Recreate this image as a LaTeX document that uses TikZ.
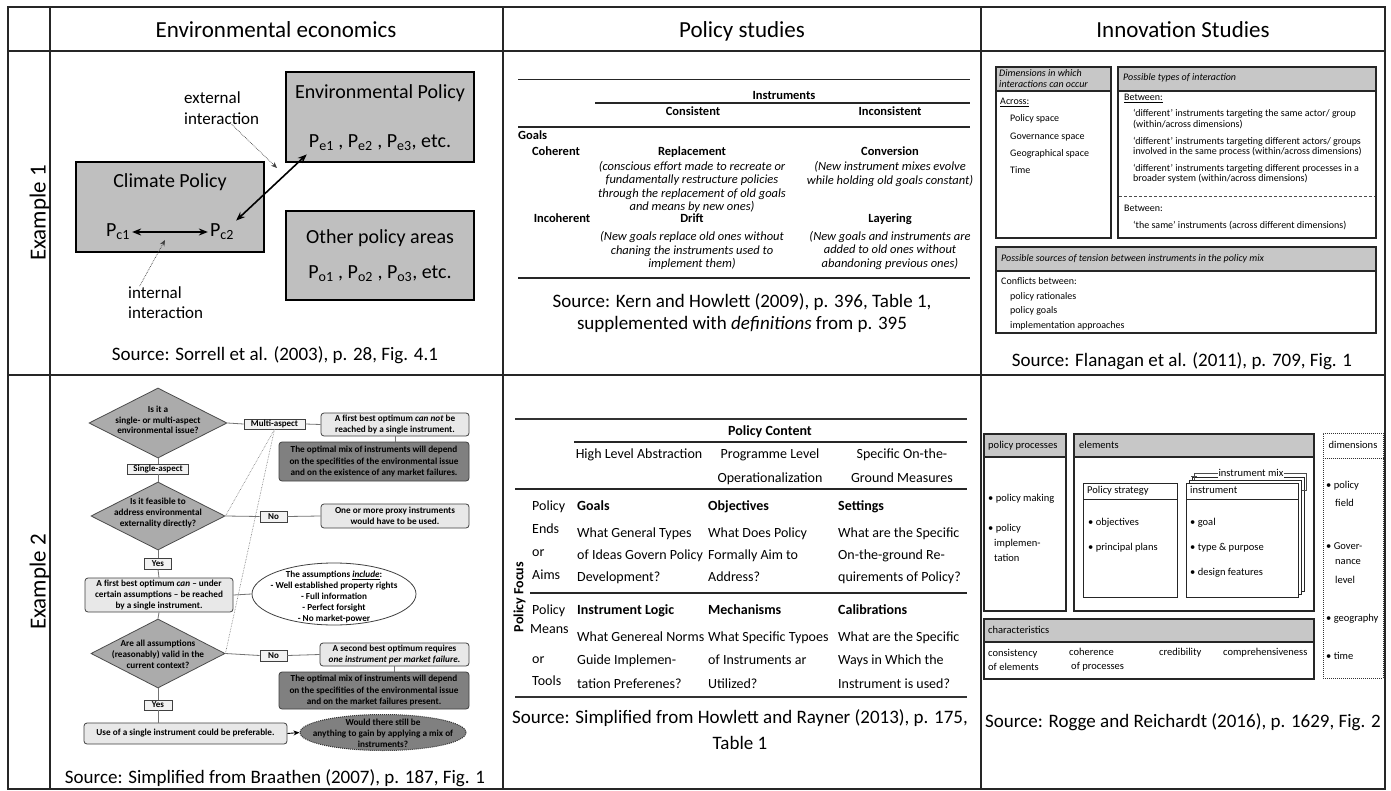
\documentclass[tikz,border=0pt]{standalone}
\usepackage{fontspec}
\setmainfont{Carlito}
\usetikzlibrary{shapes.geometric,arrows.meta}
\newcommand\fsz[2]{\fontsize{#1}{#2}\selectfont}
\begin{document}
\begin{tikzpicture}[x=1pt,y=-1pt,
 frame/.style={draw=black!85,line width=1.3pt},
 hdr/.style={font=\fsz{23}{27},inner sep=0,text height=16.1,text depth=5.1},
 src/.style={font=\fsz{19}{22},inner sep=0,align=center},
 srcs/.style={font=\fsz{19}{22},inner sep=0,text height=13.3,text depth=4.2},
 gbox/.style={draw=black,line width=2pt,fill=black!25,minimum width=188,minimum height=90,inner sep=0},
 t20/.style={font=\fsz{20}{24},inner sep=2pt,text height=14,text depth=4.4},
 t17/.style={font=\fsz{17}{20.5},inner sep=0,align=left},
 bigarr/.style={line width=1.6pt,{Stealth[length=9pt,width=7pt]}-{Stealth[length=9pt,width=7pt]}},
 dotarr/.style={draw=black!75,densely dotted,line width=0.7pt,-{Stealth[length=6pt,width=5pt]}},
 tbf/.style={font=\fsz{12.5}{14}\bfseries,inner sep=0,text height=8.75,text depth=2.75},
 tit/.style={font=\fsz{12.5}{13.4}\itshape,inner sep=0,align=center},
 rule/.style={draw=black!85,line width=1.5pt},
 ihdr/.style={draw=black!85,line width=1.5pt,fill=black!22,inner sep=0},
 ibody/.style={draw=black!85,line width=1.5pt,fill=white,inner sep=0},
 it/.style={font=\fsz{10}{10.3},inner sep=0,anchor=west,align=left},
 its/.style={font=\fsz{10}{10.3},inner sep=0,anchor=west,text height=7,text depth=2.2},
 fd/.style={shape=diamond,draw=black!70,fill=black!33,line width=0.8pt,inner sep=0},
 ftxt/.style={font=\fsz{9.2}{10.8}\bfseries,align=center,inner sep=0},
 fbox/.style={draw=black!75,fill=black!9,rounded corners=3pt,line width=0.8pt,font=\fsz{9.2}{11}\bfseries,align=center,inner sep=0},
 fdark/.style={fbox,fill=black!50,font=\fsz{9.2}{11.4}\bfseries},
 flab/.style={draw=black!75,fill=black!5,line width=0.8pt,font=\fsz{9}{10}\bfseries,inner sep=0},
 fl/.style={draw=black!55,line width=0.8pt},
 fdot/.style={draw=black!55,densely dotted,line width=0.6pt},
 ht/.style={font=\fsz{14}{16},inner sep=0,text height=9.8,text depth=3.1},
 hbf/.style={font=\fsz{14}{16}\bfseries,inner sep=0,text height=9.8,text depth=3.1},
 rhdr/.style={draw=black!85,line width=1.2pt,fill=black!22,inner sep=0},
 rbody/.style={draw=black!85,line width=1.2pt,fill=white,inner sep=0},
 rin/.style={draw=black!85,line width=0.9pt,fill=white,inner sep=0},
 rt/.style={font=\fsz{10.5}{12.5},inner sep=0,anchor=west,text height=7.35,text depth=2.3},
 rtm/.style={font=\fsz{10.5}{14},inner sep=0,anchor=west,align=left}
]
\fill[white] (0,0) rectangle (1391,791);
\useasboundingbox (0,0) rectangle (1391,791);

% ---------- frame ----------
\draw[frame] (8,7) rectangle (1385,789);
\draw[frame] (50,7) -- (50,789);
\draw[frame] (503,7) -- (503,789);
\draw[frame] (981,7) -- (981,789);
\draw[frame] (8,51) -- (1385,51);
\draw[frame] (8,375) -- (1385,375);
\node[hdr] (h1) at (276,32) {Environmental economics};
\node[hdr] (h2) at (742,32) {Policy studies};
\node[hdr] (h3) at (1183,32) {Innovation Studies};
\node[hdr,rotate=90] (ex1) at (40,213) {Example 1};
\node[hdr,rotate=90] (ex2) at (40,582) {Example 2};

% ---------- cell 1,1 ----------
\node[gbox] (climate) at (170,207) {};
\node[gbox] (envpol) at (380,117) {};
\node[gbox,minimum height=89] (other) at (380,255.5) {};
\node[t20] (climateT) at (170,183) {Climate Policy};
\node[t20] (pc1) at (118,232) {P\textsubscript{c1}};
\node[t20] (pc2) at (222,232) {P\textsubscript{c2}};
\node[t20] (envT) at (380,94) {Environmental Policy};
\node[t20] (pe) at (380,143) {P\textsubscript{e1} , P\textsubscript{e2} , P\textsubscript{e3}, etc.};
\node[t20] (otherT) at (380,239) {Other policy areas};
\node[t20] (po) at (380,274) {P\textsubscript{o1} , P\textsubscript{o2} , P\textsubscript{o3}, etc.};
\draw[bigarr] (pc1.east) -- (pc2.west);
\draw[bigarr] (pc2.north east) -- (pe.south west);
\node[t17,anchor=west] (ext) at (184,108) {external\\interaction};
\coordinate (extB) at (277,168);
\draw[dotarr] ([xshift=10]ext.south) -- (extB);
\node[t17,anchor=west] (int) at (128,302.5) {internal\\interaction};
\coordinate (intB) at (165,240);
\draw[dotarr] ([xshift=-26]int.north) -- (intB);
\node[srcs] (s11) at (275,356) {Source: Sorrell et al. (2003), p. 28, Fig. 4.1};

% ---------- cell 1,2 ----------
\draw[draw=black!85,line width=0.9pt] (518,79) -- (970,79);
\draw[rule] (595,103) -- (970,103);
\draw[rule] (518,127) -- (970,127);
\draw[rule] (518,278) -- (970,278);
\node[tbf] (instr) at (784,97) {Instruments};
\node[tbf] (cons) at (693,113) {Consistent};
\node[tbf] (incons) at (890,113) {Inconsistent};
\node[tbf,anchor=west] (goals) at (518,137) {Goals};
\node[tbf] (coh) at (556,153) {Coherent};
\node[tbf] (repl) at (692,153) {Replacement};
\node[tit] (replT) at (692,187) {(conscious effort made to recreate or\\fundamentally restructure policies\\through the replacement of old goals\\and means by new ones)};
\node[tbf] (conv) at (890,153) {Conversion};
\node[tit] (convT) at (890,174) {(New instrument mixes evolve\\while holding old goals constant)};
\node[tbf] (incoh) at (562,220) {Incoherent};
\node[tbf] (drift) at (692,220) {Drift};
\node[tit] (driftT) at (692,250.5) {(New goals replace old ones without\\chaning the instruments used to\\implement them)};
\node[tbf] (lay) at (890,220) {Layering};
\node[tit] (layT) at (890,250.5) {(New goals and instruments are\\added to old ones without\\abandoning previous ones)};
\node[src] (s12) at (742,313) {Source: Kern and Howlett (2009), p. 396, Table 1,\\supplemented with \textit{definitions} from p. 395};

% ---------- cell 1,3 ----------
\node[ihdr,minimum width=115,minimum height=24] (aH) at (1053.5,79) {};
\node[ibody,minimum width=115,minimum height=147] (aB) at (1053.5,164.5) {};
\node[ihdr,minimum width=258,minimum height=24] (bH) at (1247,79) {};
\node[ibody,minimum width=258,minimum height=147] (bB) at (1247,164.5) {};
\node[ihdr,minimum width=380,minimum height=24] (cH) at (1186,259) {};
\node[ibody,minimum width=380,minimum height=62] (cB) at (1186,302) {};
\node[it,font=\fsz{10}{10.3}\itshape] (aHt) at (999,78.5) {Dimensions in which\\interactions can occur};
\node[its] (across) at (1000,102) {\underline{Across:}};
\node[its] (a1) at (1010,119) {Policy space};
\node[its] (a2) at (1010,137) {Governance space};
\node[its] (a3) at (1010,154) {Geographical space};
\node[its] (a4) at (1010,171) {Time};
\node[its,font=\fsz{10}{10.3}\itshape] (bHt) at (1123,78) {Possible types of interaction};
\node[its] (betw1) at (1124,98) {\underline{Between:}};
\node[it] (b1) at (1133,119) {‘different’ instruments targeting the same actor/ group\\(within/across dimensions)};
\node[it] (b2) at (1133,147) {‘different’ instruments targeting different actors/ groups\\involved in the same process (within/across dimensions)};
\node[it] (b3) at (1133,174) {‘different’ instruments targeting different processes in a\\broader system (within/across dimensions)};
\draw[draw=black!70,densely dashed,line width=0.8pt] (1119,196) -- (1375,196);
\node[its] (betw2) at (1124,209) {Between:};
\node[its] (b4) at (1133,226) {‘the same’ instruments (across different dimensions)};
\node[its,font=\fsz{10}{10.3}\itshape] (cHt) at (1001,259) {Possible sources of tension between instruments in the policy mix};
\node[its] (c0) at (1001,282) {Conflicts between:};
\node[its] (c1) at (1010,297) {policy rationales};
\node[its] (c2) at (1010,311) {policy goals};
\node[its] (c3) at (1010,326) {implementation approaches};
\node[srcs] (s13) at (1182,362) {Source: Flanagan et al. (2011), p. 709, Fig. 1};

% ---------- cell 2,1 ----------
\node[fd,minimum width=138,minimum height=70] (d1) at (158,423) {};
\node[ftxt] (d1t) at (158,420) {Is it a\\single- or multi-aspect\\environmental issue?};
\node[fd,minimum width=134,minimum height=68] (d2) at (158,516) {};
\node[ftxt] (d2t) at (158,513) {Is it feasible to\\address environmental\\externality directly?};
\node[fd,minimum width=134,minimum height=69] (d3) at (158,653.5) {};
\node[ftxt] (d3t) at (158,654) {Are all assumptions\\(reasonably) valid in the\\current context?};
\node[flab,minimum width=61,minimum height=10] (ma) at (274.5,424) {Multi-aspect};
\node[flab,minimum width=61,minimum height=10] (sa) at (158,469) {Single-aspect};
\node[flab,minimum width=27,minimum height=11] (no1) at (273.5,516.5) {No};
\node[flab,minimum width=27,minimum height=11] (y1) at (158,563.5) {Yes};
\node[flab,minimum width=27,minimum height=11] (no2) at (273.5,655.5) {No};
\node[flab,minimum width=28,minimum height=10] (y2) at (158,705) {Yes};
\node[fbox,minimum width=148,minimum height=23] (fb1) at (395,424.5) {A first best optimum \textit{can not} be\\reached by a single instrument.};
\node[fdark,minimum width=190,minimum height=39] (opt1) at (374,461.5) {The optimal mix of instruments will depend\\on the specifities of the environmental issue\\and on the existence of any market failures.};
\node[fbox,minimum width=148,minimum height=24] (px) at (395,516) {One or more proxy instruments\\would have to be used.};
\node[fbox,minimum width=148,minimum height=34] (fbc) at (159,595) {A first best optimum \textit{can} -- under\\certain assumptions -- be reached\\by a single instrument.};
\node[shape=ellipse,draw=black!75,fill=white,line width=0.8pt,minimum width=164,minimum height=62,inner sep=0] (ell) at (334,594) {};
\node[ftxt,font=\fsz{9.2}{11}\bfseries] (ellt) at (334,597) {The assumptions \textit{\underline{include}}:\\- Well established property rights\\- Full information\\- Perfect forsight\\- No market-power};
\node[fbox,minimum width=149,minimum height=23] (sb) at (394.5,654.5) {A second best optimum requires\\\textit{one instrument per market failure.}};
\node[fdark,minimum width=190,minimum height=37] (opt2) at (374,690.5) {The optimal mix of instruments will depend\\on the specifities of the environmental issue\\and on the market failures present.};
\node[fbox,minimum width=203,minimum height=21] (use) at (185.5,733.5) {Use of a single instrument could be preferable.};
\node[shape=ellipse,draw=black!80,densely dotted,fill=black!50,line width=1pt,minimum width=166,minimum height=36,inner sep=0] (q) at (383,732.5) {};
\node[ftxt] (qt) at (383,733) {Would there still be\\anything to gain by applying a mix of\\instruments?};
\draw[fl] (d1.east) -- (ma.west);
\draw[fl] (ma.east) -- (fb1.west);
\draw[fl] (fb1.south) -- (fb1.south |- opt1.north);
\draw[fl] (d1.south) -- (sa.north);
\draw[fl] (sa.south) -- (d2.north);
\draw[fl] (d2.east) -- (no1.west);
\draw[fl] (no1.east) -- (px.west);
\draw[fl] (d2.south) -- (y1.north);
\draw[fl] (y1.south) -- (fbc.north);
\draw[fl] (fbc.east) -- (ell.west);
\draw[fl] (fbc.south) -- (d3.north);
\draw[fl] (d3.east) -- (no2.west);
\draw[fl] (no2.east) -- (sb.west);
\draw[fl] (sb.south) -- (sb.south |- opt2.north);
\draw[fl] (d3.south) -- (y2.north);
\draw[fl] (y2.south) -- (y2.south |- use.north);
\draw[line width=0.9pt,-{Stealth[length=6pt,width=5pt]}] (use.east) -- (q.west);
\draw[fdot] (ma.south) -- (d2.east);
\draw[fdot] (ma.south) -- (d3.east);
\node[srcs] (s21) at (275,779) {Source: Simplified from Braathen (2007), p. 187, Fig. 1};

% ---------- cell 2,2 ----------
\draw[draw=black!80,line width=1.8pt] (515,419) -- (967,419);
\draw[rule] (574,442) -- (967,442);
\draw[rule] (515,489) -- (967,489);
\draw[rule] (530,593) -- (967,593);
\draw[draw=black!80,line width=1.8pt] (515,697) -- (967,697);
\node[hbf] (pcont) at (770,432) {Policy Content};
\node[ht] (hla) at (639,455) {High Level Abstraction};
\node[ht] (pl1) at (770,455) {Programme Level};
\node[ht] (pl2) at (770,479) {Operationalization};
\node[ht] (so1) at (902,455) {Specific On-the-};
\node[ht] (so2) at (902,479) {Ground Measures};
\node[hbf,rotate=90] (pfocus) at (520,597) {Policy Focus};
\node[ht,anchor=west] (l1) at (532,507) {Policy};
\node[ht,anchor=west] (l2) at (532,530) {Ends};
\node[ht,anchor=west] (l3) at (532,553) {or};
\node[ht,anchor=west] (l4) at (532,576) {Aims};
\node[hbf,anchor=west] (g1) at (577,507) {Goals};
\node[ht,anchor=west] (g2) at (577,534) {What General Types};
\node[ht,anchor=west] (g3) at (577,556) {of Ideas Govern Policy};
\node[ht,anchor=west] (g4) at (577,578) {Development?};
\node[hbf,anchor=west] (o1) at (708,507) {Objectives};
\node[ht,anchor=west] (o2) at (708,534) {What Does Policy};
\node[ht,anchor=west] (o3) at (708,556) {Formally Aim to};
\node[ht,anchor=west] (o4) at (708,578) {Address?};
\node[hbf,anchor=west] (st1) at (838,507) {Settings};
\node[ht,anchor=west] (st2) at (838,534) {What are the Specific};
\node[ht,anchor=west] (st3) at (838,556) {On-the-ground Re-};
\node[ht,anchor=west] (st4) at (838,578) {quirements of Policy?};
\node[ht,anchor=west] (m1) at (532,611) {Policy};
\node[ht,anchor=west] (m2) at (530,630) {Means};
\node[ht,anchor=west] (m3) at (532,660) {or};
\node[ht,anchor=west] (m4) at (532,682) {Tools};
\node[hbf,anchor=west] (i1) at (577,611) {Instrument Logic};
\node[ht,anchor=west] (i2) at (577,638) {What Genereal Norms};
\node[ht,anchor=west] (i3) at (577,661) {Guide Implemen-};
\node[ht,anchor=west] (i4) at (577,685) {tation Preferenes?};
\node[hbf,anchor=west] (k1) at (708,611) {Mechanisms};
\node[ht,anchor=west] (k2) at (708,638) {What Specific Typoes};
\node[ht,anchor=west] (k3) at (708,661) {of Instruments ar};
\node[ht,anchor=west] (k4) at (708,685) {Utilized?};
\node[hbf,anchor=west] (cl1) at (838,611) {Calibrations};
\node[ht,anchor=west] (cl2) at (838,638) {What are the Specific};
\node[ht,anchor=west] (cl3) at (838,661) {Ways in Which the};
\node[ht,anchor=west] (cl4) at (838,685) {Instrument is used?};
\node[src,font=\fsz{19}{26}] (s22) at (740,730) {Source: Simplified from Howlett and Rayner (2013), p. 175,\\Table 1};

% ---------- cell 2,3 ----------
\node[rhdr,minimum width=82,minimum height=23] (ppH) at (1025,445.5) {};
\node[rbody,minimum width=82,minimum height=154] (ppB) at (1025,534) {};
\node[rhdr,minimum width=240,minimum height=23] (elH) at (1194,445.5) {};
\node[rbody,minimum width=240,minimum height=154] (elB) at (1194,534) {};
\node[rin,minimum width=94,minimum height=16] (psH) at (1130,491) {};
\node[rin,minimum width=94,minimum height=98] (psB) at (1130,548) {};
\node[rin,minimum width=112,minimum height=114] (stk2) at (1248,534) {};
\node[rin,minimum width=112,minimum height=114] (stk1) at (1245,537) {};
\node[rin,minimum width=112,minimum height=16] (inH) at (1242,491) {};
\node[rin,minimum width=112,minimum height=98] (inB) at (1242,548) {};
\draw[draw=black!70,line width=0.7pt] (1194,480) -- (1194,473) -- (1306,473) -- (1306,490) -- (1302,490);
\draw[draw=black!70,line width=0.7pt] (1191,476) -- (1197,476);
\node[font=\fsz{10.5}{12.5},fill=white,inner sep=1pt] (imix) at (1251,473) {instrument mix};
\node[draw=black!80,densely dotted,line width=1pt,minimum width=60,minimum height=245,inner sep=0] (dimB) at (1353,555.5) {};
\draw[draw=black!80,densely dotted,line width=1pt] (dimB.west |- 0,458) -- (dimB.east |- 0,458);
\node[font=\fsz{10.5}{12.5},inner sep=0,text height=7.35,text depth=2.3] (dimT) at (1353,446) {dimensions};
\node[rt] (d1a) at (1326,486) {\textbullet\ policy};
\node[rt] (d1b) at (1335,504) {field};
\node[rt] (d2a) at (1326,547) {\textbullet\ Gover-};
\node[rt] (d2b) at (1335,562) {nance};
\node[rt] (d2c) at (1335,581) {level};
\node[rt] (d3a) at (1326,619) {\textbullet\ geography};
\node[rt] (d4a) at (1326,657) {\textbullet\ time};
\node[rhdr,minimum width=330,minimum height=23] (chH) at (1149,630.5) {};
\node[rbody,minimum width=330,minimum height=37] (chB) at (1149,660.5) {};
\node[rt] (ppT) at (988,446) {policy processes};
\node[rt] (elT) at (1079,446) {elements};
\node[rt] (pp1) at (988,499) {\textbullet\ policy making};
\node[rt] (pp2) at (988,529) {\textbullet\ policy};
\node[rt] (pp3) at (994,544) {implemen-};
\node[rt] (pp4) at (994,559) {tation};
\node[rt] (psT) at (1087,491) {Policy strategy};
\node[rt] (ps1) at (1088,523) {\textbullet\ objectives};
\node[rt] (ps2) at (1088,548) {\textbullet\ principal plans};
\node[rt] (inT) at (1190,491) {instrument};
\node[rt] (in1) at (1190,523) {\textbullet\ goal};
\node[rt] (in2) at (1190,548) {\textbullet\ type \& purpose};
\node[rt] (in3) at (1190,573) {\textbullet\ design features};
\node[rt] (chT) at (988,631) {characteristics};
\node[rtm] (ch1) at (988,660) {consistency\\of elements};
\node[rtm] (ch2) at (1069,660) {coherence\\\hspace{2pt}of processes};
\node[rt] (ch3) at (1159,653) {credibility};
\node[rt] (ch4) at (1223,653) {comprehensiveness};
\node[srcs] (s23) at (1183,723) {Source: Rogge and Reichardt (2016), p. 1629, Fig. 2};
\end{tikzpicture}
\end{document}
